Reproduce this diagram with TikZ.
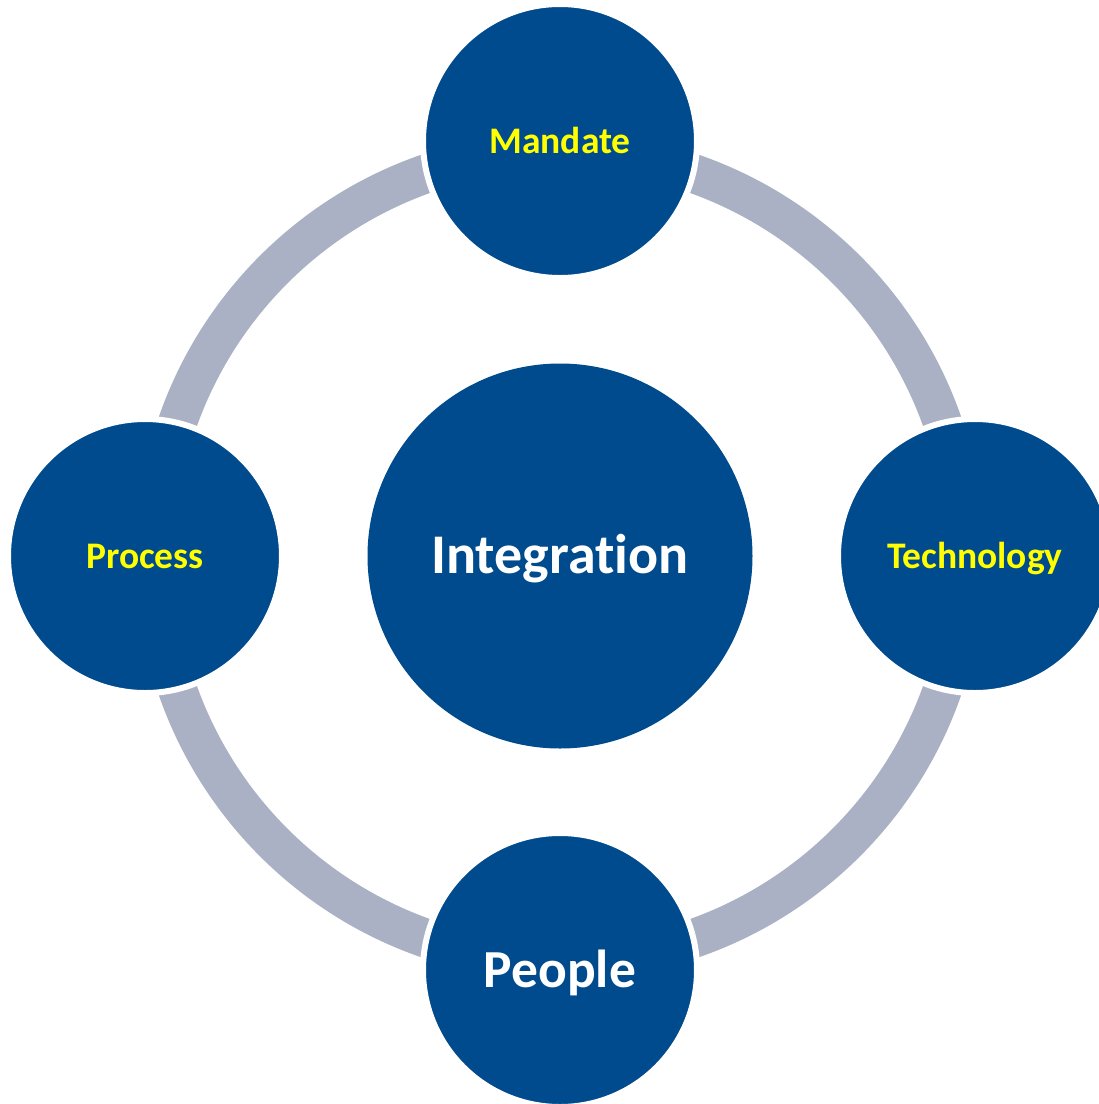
\documentclass[tikz,border=0pt]{standalone}
\usepackage{fontspec}
\setmainfont{Carlito}[Ligatures=NoCommon]
\definecolor{cblue}{RGB}{0,75,141}
\definecolor{cring}{RGB}{171,177,197}
\definecolor{cyel}{RGB}{255,255,0}
\begin{document}
\begin{tikzpicture}[x=1pt,y=-1pt,
  sat/.style={circle,fill=cblue,draw=white,line width=6pt,minimum size=274pt,inner sep=0pt,
    font=\fontsize{37.5}{42}\selectfont\bfseries,text depth=0pt,text height=24pt},
  hub/.style={circle,fill=cblue,minimum size=385pt,inner sep=0pt,text=white,
    font=\fontsize{56}{62}\selectfont\bfseries,text depth=0pt,text height=35pt}]
\useasboundingbox (0,0) rectangle (1099,1104);
\clip (0,0) rectangle (1099,1104);
\coordinate (c) at (560,556);
\draw[cring,line width=39pt] (c) circle[radius=405pt];
\node[hub] (integ) at (c) {Integration};
\node[sat,text=cyel] (mandate) at (560,141) {Mandate};
\node[sat,text=cyel] (process) at (145,556) {Process};
\node[sat,text=cyel] (tech) at (975,556) {Technology};
\node[sat,text=white,font=\fontsize{53.5}{60}\selectfont\bfseries,text height=34pt] (people) at (560,970) {People};
\end{tikzpicture}
\end{document}
